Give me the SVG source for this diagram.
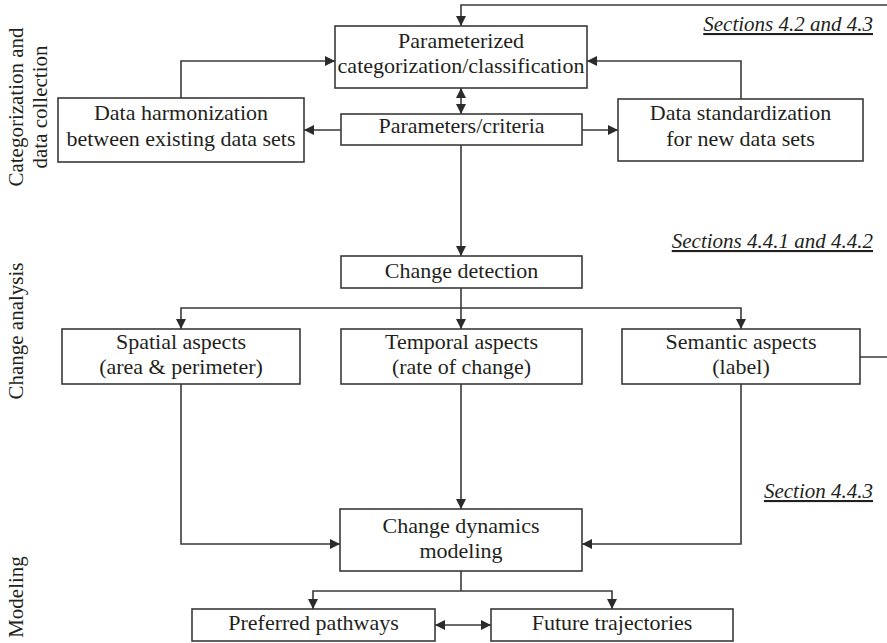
<svg xmlns="http://www.w3.org/2000/svg" width="887" height="643" viewBox="0 0 887 643">
<defs>
<marker id="ah" viewBox="0 0 10 10" refX="10" refY="5" markerWidth="10" markerHeight="10" markerUnits="userSpaceOnUse" orient="auto-start-reverse">
<path d="M0,0 L10,5 L0,10 Z" fill="#2b2b2b"/>
</marker>
</defs>
<style>
rect.n{fill:#fff;stroke:#3a3a3a;stroke-width:1.6}
text{font-family:"Liberation Serif","Times New Roman",serif;fill:#231f20}
.t{font-size:22px;text-anchor:middle}
.side{font-size:21px;text-anchor:middle}
.sec{font-size:21px;font-style:italic;text-anchor:end;text-decoration:underline}
#connectors path{fill:none;stroke:#3a3a3a;stroke-width:1.6}
</style>
<rect width="887" height="643" fill="#fff"/>

<g id="connectors">
<path d="M860,357 H900 V5 H461 V26" marker-end="url(#ah)"/>
<path d="M181,98 V61 H335" marker-end="url(#ah)"/>
<path d="M741,99 V61 H587" marker-end="url(#ah)"/>
<path d="M461,88 V114" marker-start="url(#ah)" marker-end="url(#ah)"/>
<path d="M341,130 H304" marker-end="url(#ah)"/>
<path d="M582,130 H618" marker-end="url(#ah)"/>
<path d="M461,145 V256" marker-end="url(#ah)"/>
<path d="M461,288 V308"/>
<path d="M181,329 V308 H741 V329" marker-start="url(#ah)" marker-end="url(#ah)"/>
<path d="M461,308 V329" marker-end="url(#ah)"/>
<path d="M181,384 V544 H340" marker-end="url(#ah)"/>
<path d="M461,384 V509" marker-end="url(#ah)"/>
<path d="M741,384 V544 H582" marker-end="url(#ah)"/>
<path d="M461,571 V591"/>
<path d="M313,609 V591 H612 V609" marker-start="url(#ah)" marker-end="url(#ah)"/>
<path d="M435,625 H491" marker-start="url(#ah)" marker-end="url(#ah)"/>
</g>

<g id="param-class">
<rect class="n" x="335" y="26" width="252" height="62"/>
<text class="t" x="461" y="48">Parameterized</text>
<text class="t" x="461" y="73">categorization/classification</text>
</g>
<g id="harmonization">
<rect class="n" x="58" y="98" width="246" height="64"/>
<text class="t" x="181" y="120">Data harmonization</text>
<text class="t" x="181" y="146">between existing data sets</text>
</g>
<g id="parameters">
<rect class="n" x="341" y="114" width="241" height="31"/>
<text class="t" x="461.5" y="133">Parameters/criteria</text>
</g>
<g id="standardization">
<rect class="n" x="618" y="99" width="245" height="62"/>
<text class="t" x="740.5" y="120">Data standardization</text>
<text class="t" x="740.5" y="146">for new data sets</text>
</g>
<g id="change-detection">
<rect class="n" x="341" y="256" width="241" height="32"/>
<text class="t" x="461.5" y="278">Change detection</text>
</g>
<g id="spatial">
<rect class="n" x="62" y="329" width="238" height="55"/>
<text class="t" x="181" y="349">Spatial aspects</text>
<text class="t" x="181" y="374">(area &amp; perimeter)</text>
</g>
<g id="temporal">
<rect class="n" x="341" y="329" width="241" height="55"/>
<text class="t" x="461.5" y="349">Temporal aspects</text>
<text class="t" x="461.5" y="374">(rate of change)</text>
</g>
<g id="semantic">
<rect class="n" x="622" y="329" width="238" height="55"/>
<text class="t" x="741" y="349">Semantic aspects</text>
<text class="t" x="741" y="374">(label)</text>
</g>
<g id="dynamics">
<rect class="n" x="340" y="509" width="242" height="62"/>
<text class="t" x="461" y="533">Change dynamics</text>
<text class="t" x="461" y="558">modeling</text>
</g>
<g id="preferred">
<rect class="n" x="192" y="609" width="243" height="32"/>
<text class="t" x="313.5" y="630">Preferred pathways</text>
</g>
<g id="future">
<rect class="n" x="491" y="609" width="242" height="32"/>
<text class="t" x="612" y="630">Future trajectories</text>
</g>

<g id="labels">
<text class="side" transform="translate(23,107) rotate(-90)">Categorization and</text>
<text class="side" transform="translate(47,107) rotate(-90)">data collection</text>
<text class="side" transform="translate(23,331) rotate(-90)">Change analysis</text>
<text class="side" transform="translate(23,597) rotate(-90)">Modeling</text>
<text class="sec" x="873" y="31">Sections 4.2 and 4.3</text>
<text class="sec" x="873" y="248">Sections 4.4.1 and 4.4.2</text>
<text class="sec" x="873" y="498">Section 4.4.3</text>
</g>
</svg>
